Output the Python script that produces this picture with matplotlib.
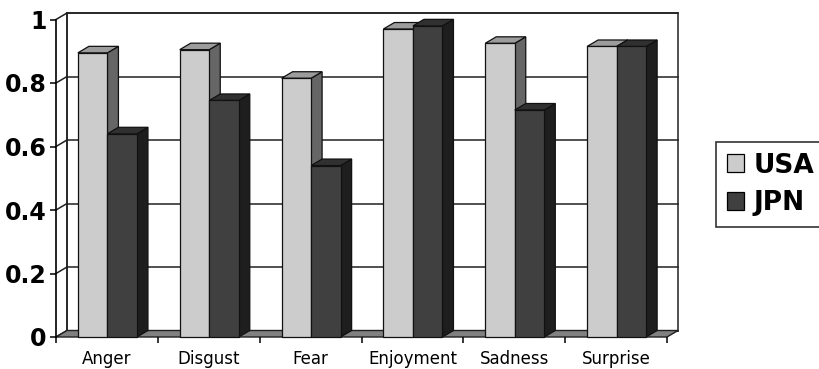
import matplotlib
matplotlib.use("Agg")
import matplotlib.pyplot as plt
from matplotlib.patches import Polygon, Rectangle, Patch

# Share of correct recognition per emotion
categories = ["Anger", "Disgust", "Fear", "Enjoyment", "Sadness", "Surprise"]
series_names = ["USA", "JPN"]
usa_values = [0.895, 0.905, 0.815, 0.97, 0.925, 0.915]
jpn_values = [0.64, 0.745, 0.54, 0.98, 0.715, 0.915]
y_ticks = [0, 0.2, 0.4, 0.6, 0.8, 1]
y_tick_labels = ["0", "0.2", "0.4", "0.6", "0.8", "1"]

# face colours for each series: front, top, side
series_faces = [
    ("#cccccc", "#9c9c9c", "#666666"),
    ("#404040", "#303030", "#1e1e1e"),
]
series_offsets = [0.215, 0.505]
bar_width = 0.29

W, H = 820, 369
fig = plt.figure(figsize=(W / 100, H / 100), dpi=100)
ax_left, ax_bottom, ax_w, ax_h = 56, 32, 611, 317.5
ax = fig.add_axes([ax_left / W, ax_bottom / H, ax_w / W, ax_h / H])
n = len(categories)
ax.set_xlim(0, n)
ax.set_ylim(0, 1)

# depth of the 3-D box in data units
DX = 11 / (ax_w / n)
DY = 6.5 / ax_h

for s in ax.spines.values():
    s.set_visible(False)
ax.spines["left"].set_visible(True)
ax.spines["left"].set_linewidth(1.2)
ax.spines["left"].set_color("black")

line_kw = dict(color="#202020", lw=1.1, clip_on=False)

# back wall
ax.add_patch(Rectangle((DX, DY), n, 1, facecolor="white", edgecolor="#202020",
                       lw=1.1, clip_on=False, zorder=0.5))
# gridlines on back wall and on the left side wall
for t in y_ticks:
    ax.plot([DX, n + DX], [t + DY, t + DY], zorder=0.6, **line_kw)
    ax.plot([0, DX], [t, t + DY], zorder=0.6, **line_kw)
ax.plot([DX, DX], [DY, 1 + DY], zorder=0.6, **line_kw)

# floor
ax.add_patch(Polygon([(0, 0), (n, 0), (n + DX, DY), (DX, DY)], closed=True,
                     facecolor="#808080", edgecolor="#202020", lw=1.0,
                     clip_on=False, zorder=0.7))


def draw_bar(x, v, faces):
    front, top, side = faces
    kw = dict(edgecolor="#111111", lw=0.9, clip_on=False, zorder=2,
              joinstyle="miter")
    ax.add_patch(Polygon([(x + bar_width, 0), (x + bar_width + DX, DY),
                          (x + bar_width + DX, v + DY), (x + bar_width, v)],
                         closed=True, facecolor=side, **kw))
    ax.add_patch(Polygon([(x, v), (x + bar_width, v),
                          (x + bar_width + DX, v + DY), (x + DX, v + DY)],
                         closed=True, facecolor=top, **kw))
    ax.add_patch(Rectangle((x, 0), bar_width, v, facecolor=front, **kw))


for i in range(n):
    for vals, off, faces in zip([usa_values, jpn_values], series_offsets,
                                series_faces):
        draw_bar(i + off, vals[i], faces)

# y axis
ax.set_yticks(y_ticks)
ax.set_yticklabels(y_tick_labels, fontsize=17, fontweight="bold",
                   family="DejaVu Sans")
ax.tick_params(axis="y", length=4, width=1.1, pad=3, color="black")

# x axis: labels centred on categories, ticks on category boundaries
ax.set_xticks([i + 0.5 for i in range(n)])
ax.set_xticklabels(categories, fontsize=12, family="DejaVu Sans")
ax.set_xticks(list(range(n + 1)), minor=True)
ax.tick_params(axis="x", which="major", length=0, pad=9)
ax.tick_params(axis="x", which="minor", length=4, width=1.1, color="black")

# legend, its box running past the right border of the figure
handles = [Patch(facecolor=f[0], edgecolor="black", lw=0.9) for f in series_faces]
leg = fig.legend(handles, series_names, loc="upper left",
                 bbox_to_anchor=(716 / W, (H - 227) / H, 0.3, 85 / H),
                 mode="expand", frameon=True, fancybox=False,
                 prop=dict(family="DejaVu Sans", weight="bold", size=19),
                 handlelength=0.66, handleheight=0.66, handletextpad=0.38,
                 labelspacing=0.45, borderpad=0.4, borderaxespad=0)
leg.get_frame().set_edgecolor("black")
leg.get_frame().set_linewidth(1.2)

fig.savefig("out.png", dpi=100)
